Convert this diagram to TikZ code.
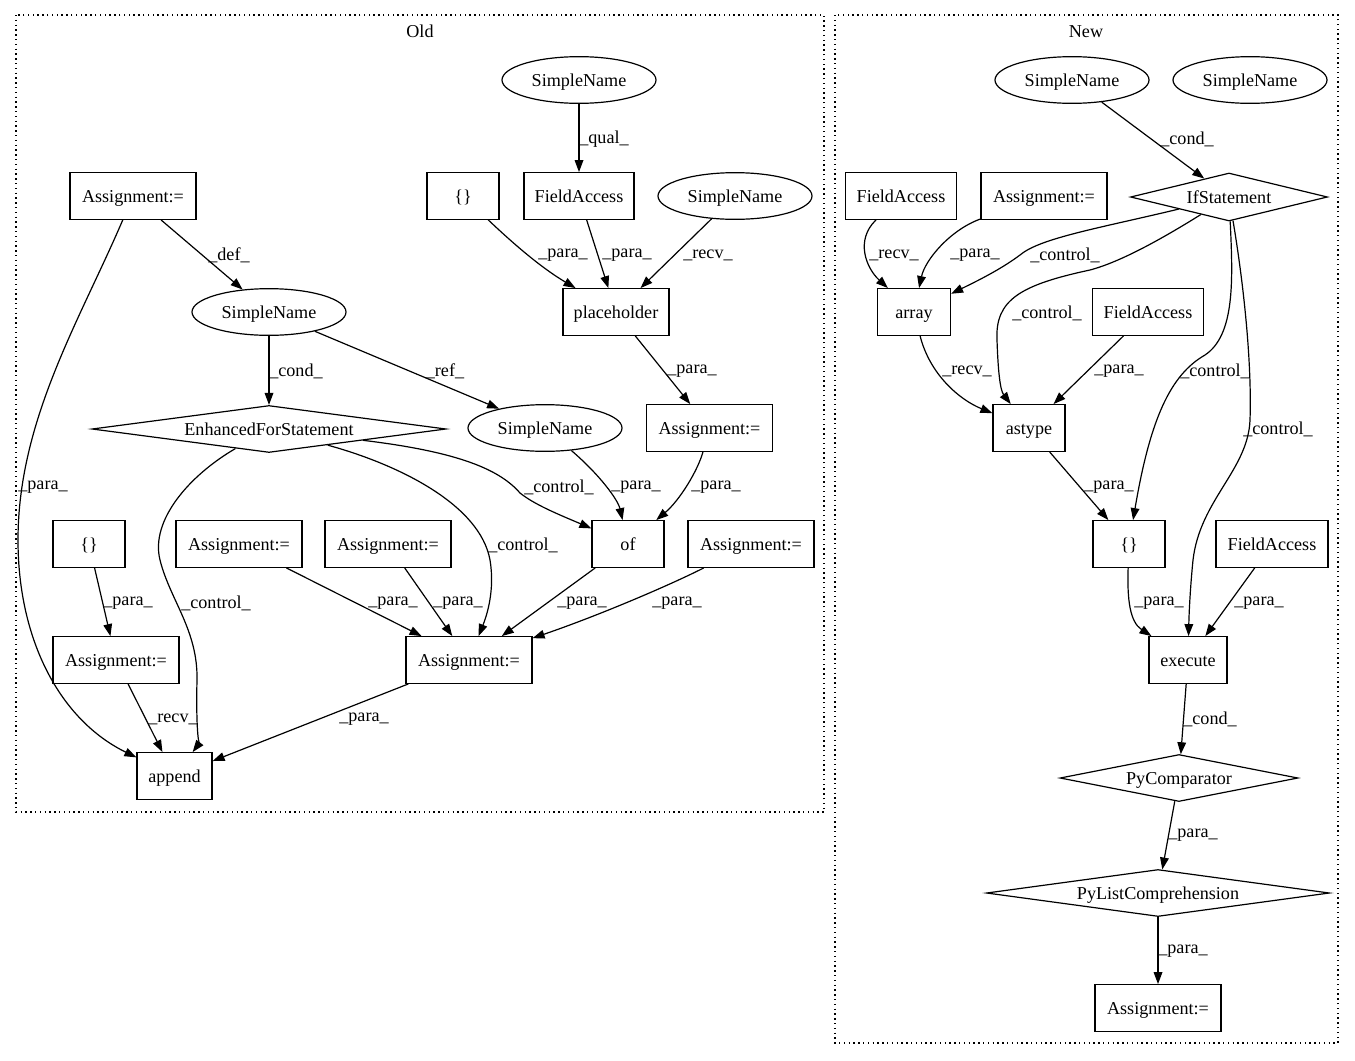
\documentclass[tikz,border=0pt]{standalone}
\usepackage{fontspec}
\setmainfont{Liberation Serif}
\usetikzlibrary{shapes.geometric,arrows.meta}
\begin{document}
\begin{tikzpicture}[x=0.75pt,y=0.75pt,
  every node/.style={font=\fontsize{13.6}{16}\selectfont},
  bx/.style={draw, rectangle, line width=0.9pt, inner sep=0pt, text height=11.5pt, text depth=2.1pt, minimum height=35pt, minimum width={#1*0.75pt}},
  el/.style={draw, ellipse, line width=0.9pt, inner sep=0pt, text height=11.5pt, text depth=2.1pt, minimum height=35pt, minimum width=115.5pt},
  dm/.style n args={3}{draw, diamond, line width=0.9pt, inner sep=0pt, text height=11.5pt, text depth=2.1pt, aspect=#3, minimum width={#1*0.75pt}, minimum height={#2*0.75pt}},
  lb/.style={inner sep=0pt, yshift=-1pt},
  ed/.style={-{Triangle[length=9pt,width=6.5pt]}, line width=0.9pt},
  cl/.style={line width=0.8pt, dash pattern=on 1pt off 2.6pt},
]
\useasboundingbox[fill=white] (0,0) rectangle (1355,-1060);

% clusters
\draw[cl] (16,-15) rectangle (824,-812);
\node[lb] (tOld) at (420,-30) {Old};
\draw[cl] (835,-15) rectangle (1338,-1043);
\node[lb] (tNew) at (1086,-30) {New};

% ---------- Old ----------
\node[el] (o_sn1) at (579,-80) {SimpleName};
\node[bx=110] (o_fa) at (579,-196) {FieldAccess};
\node[el] (o_sn4) at (735,-196) {SimpleName};
\node[bx=72] (o_br1) at (463,-196) {\{\}};
\node[bx=126] (o_as1) at (133,-196) {Assignment:=};
\node[bx=106] (o_ph) at (616,-312) {placeholder};
\node[el] (o_sn2) at (269,-312) {SimpleName};
\node[dm={354}{47}{7.53}] (o_efs) at (269,-429) {EnhancedForStatement};
\node[el] (o_sn3) at (545,-428) {SimpleName};
\node[bx=126] (o_as2) at (709.5,-428) {Assignment:=};
\node[bx=72] (o_br2) at (89,-544) {\{\}};
\node[bx=126] (o_as3) at (239,-544) {Assignment:=};
\node[bx=126] (o_as4) at (388,-544) {Assignment:=};
\node[bx=72] (o_of) at (628,-544) {of};
\node[bx=126] (o_as6) at (751,-544) {Assignment:=};
\node[bx=126] (o_as5) at (116,-660) {Assignment:=};
\node[bx=126] (o_as7) at (469,-660) {Assignment:=};
\node[bx=75] (o_app) at (174.5,-776) {append};

\draw[ed] (o_sn1) -- (o_fa);
\draw[ed] (o_br1) .. controls (520,-250) and (545,-270) .. (o_ph);
\draw[ed] (o_fa) -- (o_ph);
\draw[ed] (o_sn4) -- (o_ph);
\draw[ed] (o_ph) -- (o_as2);
\draw[ed] (o_as1) .. controls (80,-320) and (18,-420) .. (18,-540) .. controls (18,-640) and (60,-720) .. (o_app);
\draw[ed] (o_as1) -- (o_sn2);
\draw[ed] (o_sn2) -- (o_efs);
\draw[ed] (o_sn2) -- (o_sn3);
\draw[ed] (o_efs) .. controls (460,-452) and (500,-470) .. (520,-493) .. controls (535,-505) and (560,-515) .. (o_of);
\draw[ed] (o_efs) .. controls (400,-465) and (480,-505) .. (490,-560) .. controls (495,-590) and (487,-615) .. (o_as7);
\draw[ed] (o_efs) .. controls (190,-475) and (150,-520) .. (160,-560) .. controls (170,-600) and (198,-630) .. (197,-680) .. controls (196,-720) and (198,-745) .. (o_app);
\draw[ed] (o_sn3) .. controls (600,-475) and (618,-500) .. (o_of);
\draw[ed] (o_as2) .. controls (698,-470) and (680,-500) .. (o_of);
\draw[ed] (o_br2) -- (o_as5);
\draw[ed] (o_as3) -- (o_as7);
\draw[ed] (o_as4) -- (o_as7);
\draw[ed] (o_of) -- (o_as7);
\draw[ed] (o_as6) .. controls (670,-585) and (600,-615) .. (o_as7);
\draw[ed] (o_as5) -- (o_app);
\draw[ed] (o_as7) -- (o_app);

\node[lb] (l1) at (604,-138) {\_qual\_};
\node[lb] (l2) at (563,-254) {\_para\_};
\node[lb] (l3) at (627,-254) {\_para\_};
\node[lb] (l4) at (708,-254) {\_recv\_};
\node[lb] (l5) at (229,-254) {\_def\_};
\node[lb] (l6) at (296,-370) {\_cond\_};
\node[lb] (l7) at (445,-370) {\_ref\_};
\node[lb] (l8) at (692,-370) {\_para\_};
\node[lb] (l9) at (43,-486) {\_para\_};
\node[lb] (l10) at (559,-486) {\_control\_};
\node[lb] (l11) at (636,-486) {\_para\_};
\node[lb] (l12) at (716,-486) {\_para\_};
\node[lb] (l13) at (523,-544) {\_control\_};
\node[lb] (l14) at (216,-602) {\_control\_};
\node[lb] (l15) at (128,-602) {\_para\_};
\node[lb] (l16) at (393,-602) {\_para\_};
\node[lb] (l17) at (458,-602) {\_para\_};
\node[lb] (l18) at (582,-602) {\_para\_};
\node[lb] (l19) at (677,-602) {\_para\_};
\node[lb] (l20) at (173,-718) {\_recv\_};
\node[lb] (l21) at (364,-718) {\_para\_};

% ---------- New ----------
\node[el] (n_sn1) at (1072,-80) {SimpleName};
\node[el] (n_sn2) at (1250,-80) {SimpleName};
\node[dm={197}{48}{4.1}] (n_if) at (1229,-197) {IfStatement};
\node[bx=111] (n_fa1) at (901,-196) {FieldAccess};
\node[bx=126] (n_as1) at (1044,-196) {Assignment:=};
\node[bx=73] (n_arr) at (914,-312) {array};
\node[bx=111] (n_fa2) at (1148,-312) {FieldAccess};
\node[bx=72] (n_ast) at (1029,-428) {astype};
\node[bx=72] (n_br) at (1129,-544) {\{\}};
\node[bx=112] (n_fa3) at (1272,-544) {FieldAccess};
\node[bx=78] (n_exe) at (1188,-660) {execute};
\node[dm={238}{47}{5.06}] (n_pc) at (1179,-778) {PyComparator};
\node[dm={343}{47}{7.3}] (n_pl) at (1158,-893) {PyListComprehension};
\node[bx=126] (n_as2) at (1158,-1008) {Assignment:=};

\draw[ed] (n_sn1) -- (n_if);
\draw[ed] (n_fa1) .. controls (855,-240) and (866,-268) .. (n_arr);
\draw[ed] (n_as1) .. controls (950,-230) and (925,-260) .. (n_arr);
\draw[ed] (n_if) .. controls (1100,-228) and (1040,-238) .. (1020,-255) .. controls (1000,-270) and (975,-282) .. (n_arr);
\draw[ed] (n_if) .. controls (1160,-240) and (1120,-262) .. (1090,-270) .. controls (1020,-285) and (995,-300) .. (997,-340) .. controls (998,-370) and (1000,-390) .. (n_ast);
\draw[ed] (n_if) .. controls (1233,-280) and (1235,-335) .. (1205,-355) .. controls (1170,-375) and (1150,-420) .. (n_br);
\draw[ed] (n_if) .. controls (1243,-280) and (1252,-360) .. (1250,-420) .. controls (1248,-470) and (1200,-500) .. (1193,-560) .. controls (1190,-590) and (1189,-615) .. (n_exe);
\draw[ed] (n_arr) .. controls (930,-375) and (960,-400) .. (n_ast);
\draw[ed] (n_fa2) -- (n_ast);
\draw[ed] (n_ast) -- (n_br);
\draw[ed] (n_br) .. controls (1127,-600) and (1130,-622) .. (n_exe);
\draw[ed] (n_fa3) -- (n_exe);
\draw[ed] (n_exe) -- (n_pc);
\draw[ed] (n_pc) -- (n_pl);
\draw[ed] (n_pl) -- (n_as2);

\node[lb] (m1) at (1187,-138) {\_cond\_};
\node[lb] (m2) at (894,-254) {\_recv\_};
\node[lb] (m3) at (975,-254) {\_para\_};
\node[lb] (m4) at (1065,-254) {\_control\_};
\node[lb] (m5) at (1047,-312) {\_control\_};
\node[lb] (m6) at (967,-370) {\_recv\_};
\node[lb] (m7) at (1119,-370) {\_para\_};
\node[lb] (m8) at (1215,-370) {\_control\_};
\node[lb] (m9) at (1278,-428) {\_control\_};
\node[lb] (m10) at (1109,-486) {\_para\_};
\node[lb] (m11) at (1159,-602) {\_para\_};
\node[lb] (m12) at (1259,-602) {\_para\_};
\node[lb] (m13) at (1210,-718) {\_cond\_};
\node[lb] (m14) at (1193,-834) {\_para\_};
\node[lb] (m15) at (1183,-950) {\_para\_};
\end{tikzpicture}
\end{document}
